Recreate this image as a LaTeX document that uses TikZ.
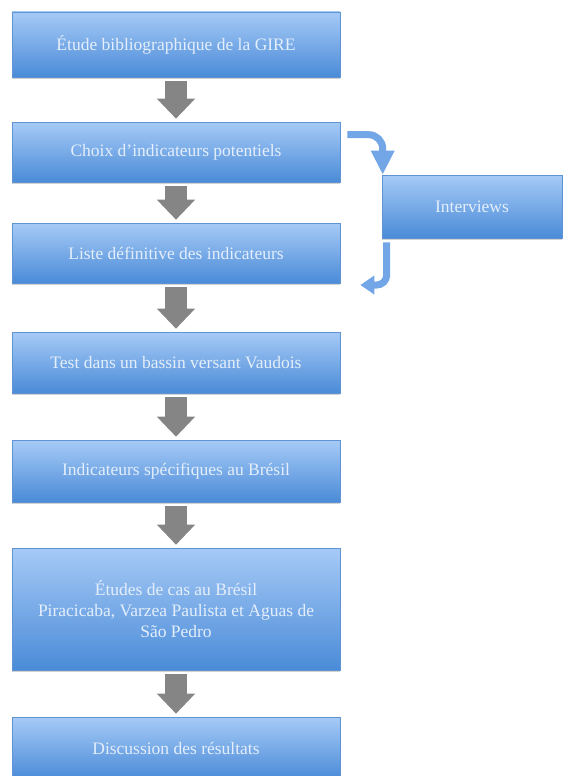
\documentclass[tikz,border=0pt]{standalone}
\usepackage{fontspec}
\setmainfont{Liberation Serif}
\usetikzlibrary{arrows.meta,shadows,calc}
\definecolor{boxtop}{HTML}{A6CAF6}
\definecolor{boxbot}{HTML}{4A8BD8}
\definecolor{boxline}{HTML}{5F93D2}
\definecolor{boxtext}{HTML}{E4EEFA}
\definecolor{curvecol}{HTML}{72A6E6}
\definecolor{stepgray}{HTML}{858585}
\begin{document}
\begin{tikzpicture}[x=1pt, y=-1pt,
    stepbox/.style={draw=boxline, line width=.6pt, top color=boxtop, bottom color=boxbot,
        text=boxtext, font=\fontsize{17.5}{21}\selectfont, align=center,
        minimum width=328pt, inner sep=0pt,
        drop shadow={opacity=.35, shadow xshift=0pt, shadow yshift=-2pt}},
    downarrow/.style={stepgray, line width=22pt, shorten <=4pt, shorten >=3pt,
        -{Triangle[width=37pt, length=20pt]}},
    sidearrow/.style={curvecol, line width=7pt, rounded corners=14pt}]
    \useasboundingbox[fill=white] (0,0) rectangle (565,776);
    \node[stepbox, minimum height=65pt] (biblio) at (176,44.5) {Étude bibliographique de la GIRE};
    \node[stepbox, minimum height=60pt] (choix) at (176,152) {Choix d’indicateurs potentiels};
    \node[stepbox, minimum height=60pt] (liste) at (176,253) {Liste définitive des indicateurs};
    \node[stepbox, minimum height=61pt] (test) at (176,362.5) {Test dans un bassin versant Vaudois};
    \node[stepbox, minimum height=62pt] (bresil) at (176,471) {Indicateurs spécifiques au Brésil};
    \node[stepbox, minimum height=122pt] (cas) at (176,609) {Études de cas au Brésil\\Piracicaba, Varzea Paulista et Aguas de\\São Pedro};
    \node[stepbox, minimum height=62pt] (discussion) at (176,748) {Discussion des résultats};
    \node[stepbox, minimum width=180pt, minimum height=63pt] (interviews) at (472,206.5) {Interviews};
    \draw[downarrow] (biblio) -- (choix);
    \draw[downarrow] (choix) -- (liste);
    \draw[downarrow] (liste) -- (test);
    \draw[downarrow] (test) -- (bresil);
    \draw[downarrow] (bresil) -- (cas);
    \draw[downarrow] (cas) -- (discussion);
    \coordinate (outstart) at ($(choix.north east)+(7,13)$);
    \coordinate (backstart) at ($(interviews.south west)+(5,4)$);
    \coordinate (backend) at ($(liste.east)+(20,32)$);
    \draw[sidearrow, -{Triangle[width=22pt, length=24pt]}] (outstart) -| ($(interviews.north west)+(1,0)$);
    \draw[sidearrow, rounded corners=10pt, -{Triangle[width=18pt, length=14pt]}] (backstart) |- (backend);
\end{tikzpicture}
\end{document}
